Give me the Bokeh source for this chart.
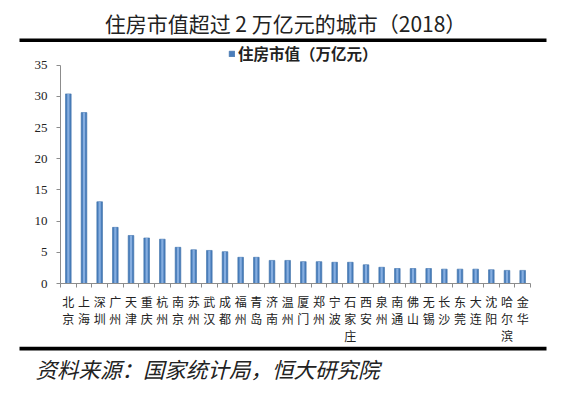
from bokeh.plotting import figure
from bokeh.layouts import column, row
from bokeh.models import Range1d, FixedTicker, Legend, LegendItem
from bokeh.core.properties import value
from bokeh.embed import file_html
from bokeh.resources import INLINE

cities = ["北京", "上海", "深圳", "广州", "天津", "重庆", "杭州", "南京", "苏州", "武汉",
          "成都", "福州", "青岛", "济南", "温州", "厦门", "郑州", "宁波", "石家庄", "西安",
          "泉州", "南通", "佛山", "无锡", "长沙", "东莞", "大连", "沈阳", "哈尔滨", "金华"]
values = [30.4, 27.4, 13.1, 9.0, 7.7, 7.3, 7.1, 5.8, 5.4, 5.3,
          5.1, 4.2, 4.2, 3.7, 3.7, 3.5, 3.5, 3.4, 3.4, 3.0,
          2.6, 2.4, 2.4, 2.4, 2.3, 2.3, 2.3, 2.2, 2.1, 2.1]
y_ticks = [0, 5, 10, 15, 20, 25, 30, 35]
title_text = "住房市值超过 2 万亿元的城市（2018）"
series_name = "住房市值（万亿元）"
source_text = "资料来源：国家统计局，恒大研究院"

CJK = "Noto Sans CJK SC"
W = 550
xs = list(range(1, len(cities) + 1))


def blank(h):
    f = figure(width=W, height=h, output_backend="svg", toolbar_location=None,
               x_range=Range1d(0, W), y_range=Range1d(h, 0),
               x_axis_location=None, y_axis_location=None,
               min_border=0, min_border_left=0, min_border_right=0,
               min_border_top=0, min_border_bottom=0)
    f.grid.grid_line_color = None
    f.outline_line_color = None
    return f


# header: title + rule
header = blank(42)
header.text(x=[285], y=[22], text=[title_text], text_font=value(CJK),
            text_font_size="21px", text_color="#222222",
            text_align="center", text_baseline="middle")
header.quad(left=[19], right=[546], top=[38], bottom=[41.5], fill_color="black", line_color=None)

# main chart (frame top sits above the 35 tick so the legend fits inside)
p = figure(width=W, height=304, output_backend="svg", toolbar_location=None,
           x_range=Range1d(0.5, len(cities) + 0.5), y_range=Range1d(0, 38.64),
           min_border_left=60, min_border_right=W - 530, min_border_top=0, min_border_bottom=60)
p.outline_line_color = None
p.grid.grid_line_color = None

outer = p.vbar(x=xs, top=values, width=0.36, bottom=0,
               fill_color="#4a7ebb", line_color="#3d6ea8", line_width=0.6)
p.vbar(x=xs, top=values, width=0.14, bottom=0, fill_color="#86aee0", line_color=None)

ya = p.yaxis[0]
ya.ticker = FixedTicker(ticks=y_ticks)
ya.bounds = (0, 35)
ya.axis_line_color = "#8c8c8c"
ya.major_tick_line_color = "#8c8c8c"
ya.major_tick_out = 4
ya.major_tick_in = 0
ya.minor_tick_line_color = None
ya.major_label_text_font = "Liberation Serif"
ya.major_label_text_font_size = "13px"
ya.major_label_text_color = "#222222"
ya.major_label_standoff = 9

xa = p.xaxis[0]
xa.ticker = FixedTicker(ticks=xs, minor_ticks=[i + 0.5 for i in range(0, len(cities) + 1)])
xa.major_label_overrides = {i: "\n".join(c) for i, c in zip(xs, cities)}
xa.axis_line_color = "#8c8c8c"
xa.major_tick_line_color = None
xa.minor_tick_line_color = "#8c8c8c"
xa.minor_tick_out = 4
xa.minor_tick_in = 0
xa.major_label_text_font = CJK
xa.major_label_text_font_size = "12px"
xa.major_label_text_color = "#222222"
xa.major_label_text_line_height = 1.0
xa.major_label_standoff = 3

legend = Legend(items=[LegendItem(label=series_name, renderers=[outer])],
                location=(168, 219), orientation="horizontal",
                border_line_color=None, background_fill_alpha=0,
                glyph_width=7, glyph_height=7, padding=0, margin=0, label_standoff=3,
                label_height=14, label_text_font=CJK, label_text_font_size="15.5px",
                label_text_font_style="bold", label_text_color="#222222")
p.add_layout(legend, "center")

# footer: rule + source
footer = blank(39)
footer.quad(left=[19], right=[546], top=[0], bottom=[4], fill_color="black", line_color=None)
footer.text(x=[35], y=[22], text=[source_text], text_font=value(CJK),
            text_font_size="21.5px", text_font_style="italic", text_color="#222222",
            text_align="left", text_baseline="middle")

layout = column(row(header), p, row(footer), spacing=0)
open("out.html", "w").write(file_html(layout, INLINE))
